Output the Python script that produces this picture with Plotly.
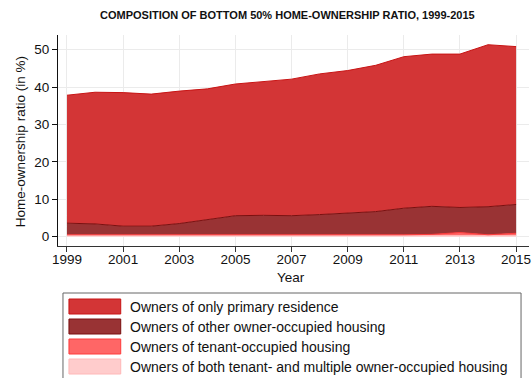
import plotly.graph_objects as go

# Survey years and the four ownership components (percentage points of the bottom 50%)
years = list(range(1999, 2016))
primary_only = [34.2, 35.2, 35.7, 35.3, 35.4, 34.9, 35.2, 35.8, 36.5, 37.6, 38.2, 39.1, 40.5, 40.7, 41.0, 43.3, 42.2]
other_owner_occ = [3.1, 2.9, 2.5, 2.5, 3.2, 4.3, 5.3, 5.4, 5.3, 5.6, 5.9, 6.4, 7.1, 7.5, 6.7, 7.5, 7.7]
tenant_occ = [0.2, 0.2, 0.1, 0.1, 0.1, 0.1, 0.1, 0.1, 0.1, 0.1, 0.1, 0.1, 0.2, 0.3, 0.8, 0.3, 0.6]
both_kinds = [0.3, 0.3, 0.2, 0.2, 0.2, 0.2, 0.2, 0.2, 0.2, 0.2, 0.2, 0.2, 0.3, 0.3, 0.3, 0.2, 0.3]

labels = [
    "Owners of only primary residence",
    "Owners of other owner-occupied housing",
    "Owners of tenant-occupied housing",
    "Owners of both tenant- and multiple owner-occupied housing",
]
fills = ["#D33536", "#993334", "#FF6666", "#FFCCCC"]
edges = ["#C81414", "#7A0F0F", "#FF3B3B", "#FFB8B8"]

W, H = 532, 378
L, R, T, B = 58, 1, 35, 132
FONT = "Liberation Sans, Arial, Helvetica, sans-serif"

fig = go.Figure()
# stacked from the bottom: both, tenant, other, primary
stack = [(both_kinds, 3), (tenant_occ, 2), (other_owner_occ, 1), (primary_only, 0)]
for vals, i in stack:
    fig.add_trace(go.Scatter(
        x=years, y=vals, name=labels[i], stackgroup="own", mode="lines",
        line=dict(color=edges[i], width=1), fillcolor=fills[i],
        showlegend=False, hoverinfo="x+y+name",
    ))

pw = W - L - R
ph = H - T - B


def px_x(p):
    return (p - L) / pw


def px_y(p):
    return 1 - (p - T) / ph


shapes = []
annotations = []

# legend box
shapes.append(dict(type="rect", xref="paper", yref="paper",
                   x0=px_x(63), x1=px_x(523), y0=px_y(382), y1=px_y(293),
                   line=dict(color="#666666", width=1), fillcolor="rgba(0,0,0,0)"))
rows = [306.5, 326.5, 346.5, 366.5]
for i, yc in enumerate(rows):
    shapes.append(dict(type="rect", xref="paper", yref="paper",
                       x0=px_x(69), x1=px_x(121), y0=px_y(yc + 7.5), y1=px_y(yc - 7.5),
                       line=dict(color=edges[i], width=1), fillcolor=fills[i]))
    annotations.append(dict(text=labels[i], xref="paper", yref="paper",
                            x=px_x(128), y=px_y(yc), xanchor="left", yanchor="middle",
                            showarrow=False, font=dict(size=14, color="#111111", family=FONT)))

# title and axis titles
annotations.append(dict(text="<b>COMPOSITION OF BOTTOM 50% HOME-OWNERSHIP RATIO, 1999-2015</b>",
                        xref="paper", yref="paper", x=px_x(288), y=px_y(15),
                        xanchor="center", yanchor="middle", showarrow=False,
                        font=dict(size=11, color="#111111", family=FONT)))
annotations.append(dict(text="Year", xref="paper", yref="paper", x=px_x(292), y=px_y(277),
                        xanchor="center", yanchor="middle", showarrow=False,
                        font=dict(size=13.5, color="#111111", family=FONT)))
annotations.append(dict(text="Home-ownership ratio (in %)", xref="paper", yref="paper",
                        x=px_x(20), y=px_y(142), xanchor="center", yanchor="middle",
                        textangle=-90, showarrow=False,
                        font=dict(size=13.5, color="#111111", family=FONT)))

fig.update_layout(
    width=W, height=H,
    margin=dict(l=L, r=R, t=T, b=B, pad=0),
    paper_bgcolor="white", plot_bgcolor="white",
    font=dict(family=FONT, size=13.5, color="#111111"),
    showlegend=False,
    shapes=shapes, annotations=annotations,
    xaxis=dict(range=[1998.68, 2015.46], tickmode="array", tickvals=list(range(1999, 2016, 2)),
               showgrid=True, gridcolor="#EBEBEB", gridwidth=1, zeroline=False,
               showline=True, linecolor="#333333", linewidth=1,
               ticks="outside", ticklen=5, tickcolor="#333333",
               ticklabeloverflow="allow", ticklabelstandoff=-4,
               tickfont=dict(size=13.5, family=FONT, color="#111111")),
    yaxis=dict(range=[-2.5, 53.9], tickmode="array", tickvals=[0, 10, 20, 30, 40, 50],
               showgrid=True, gridcolor="#EBEBEB", gridwidth=1, zeroline=False,
               showline=True, linecolor="#111111", linewidth=1,
               ticks="outside", ticklen=5, tickcolor="#111111",
               tickfont=dict(size=13.5, family=FONT, color="#111111")),
)

fig.write_html("out.html")
